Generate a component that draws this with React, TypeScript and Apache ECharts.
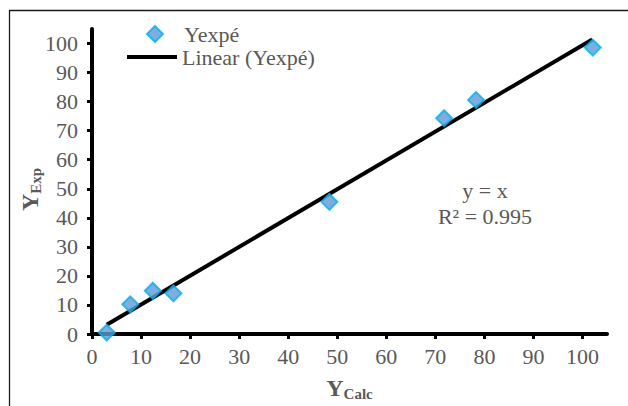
import React, { useEffect, useRef } from "react";
import * as echarts from "echarts";

const SERIES_NAME = "Yexpé";
const TREND_NAME = "Linear (Yexpé)";
const X_CALC = [3, 7.8, 12.4, 16.6, 48.4, 71.8, 78.3, 102.1];
const Y_EXP = [0.5, 10.2, 14.9, 14.0, 45.5, 74.3, 80.6, 98.6];
const TREND_X = [3, 102];
const TREND_Y = [3.2, 101.4];
const TICKS = [0, 10, 20, 30, 40, 50, 60, 70, 80, 90, 100];
const EQUATION = "y = x";
const R2_TEXT = "R² = 0.995";

const FONT = "'Liberation Serif', 'Times New Roman', serif";
const GRAY = "#595959";

export default function App() {
  const ref = useRef<HTMLDivElement>(null);
  useEffect(() => {
    if (!ref.current) return;
    const chart = echarts.init(ref.current, null, { renderer: "svg" });
    const axisCommon = {
      type: "value" as const,
      min: 0,
      max: 105,
      interval: 10,
      splitLine: { show: false },
      axisLine: { show: true, onZero: false, lineStyle: { color: "#000", width: 4 } },
      axisTick: {
        show: true,
        length: 5,
        lineStyle: { color: "#000", width: 3 },
        customValues: TICKS,
      },
      axisLabel: {
        color: GRAY,
        fontFamily: FONT,
        fontSize: 22,
        customValues: TICKS,
      },
    };
    chart.setOption({
      animation: false,
      backgroundColor: "#fff",
      textStyle: { fontFamily: FONT },
      grid: { left: 92, top: 29, width: 515, height: 310 },
      xAxis: {
        ...axisCommon,
        axisLabel: { ...axisCommon.axisLabel, margin: 11 },
        name: "{a|Y}{b|Calc}",
        nameLocation: "middle",
        nameGap: 40,
        nameMoveOverlap: false,
        nameTextStyle: {
          color: GRAY,
          rich: {
            a: { fontSize: 24, fontWeight: "bold", color: GRAY, fontFamily: FONT },
            b: { fontSize: 15, fontWeight: "bold", color: GRAY, fontFamily: FONT, padding: [12, 0, 0, 0] },
          },
        },
      },
      yAxis: {
        ...axisCommon,
        axisLabel: { ...axisCommon.axisLabel, margin: 14 },
        name: "{a|Y}{b|Exp}",
        nameLocation: "middle",
        nameRotate: 90,
        nameGap: 49,
        nameMoveOverlap: false,
        nameTextStyle: {
          color: GRAY,
          padding: [0, 16, 0, 0],
          rich: {
            a: { fontSize: 24, fontWeight: "bold", color: GRAY, fontFamily: FONT },
            b: { fontSize: 15, fontWeight: "bold", color: GRAY, fontFamily: FONT, padding: [12, 0, 0, 0] },
          },
        },
      },
      legend: [
        {
          data: [SERIES_NAME],
          left: 146,
          top: 23,
          padding: 0,
          itemWidth: 16,
          itemHeight: 16,
          textStyle: { color: GRAY, fontSize: 22, fontFamily: FONT, padding: [0, 0, 0, 16] },
        },
        {
          data: [{ name: TREND_NAME, icon: "rect" }],
          left: 127,
          top: 46,
          padding: 0,
          itemWidth: 50,
          itemHeight: 4,
          itemStyle: { color: "#000", borderWidth: 0 },
          textStyle: { color: GRAY, fontSize: 22, fontFamily: FONT },
        },
      ],
      graphic: [
        {
          type: "rect",
          shape: { x: 9.5, y: 10.5, width: 700, height: 500 },
          style: { fill: "none", stroke: "#1a1a1a", lineWidth: 1.3 },
          silent: true,
        },
        {
          type: "text",
          x: 485,
          y: 190,
          style: { text: EQUATION, fill: GRAY, fontSize: 22, fontFamily: FONT, align: "center", verticalAlign: "middle" },
        },
        {
          type: "text",
          x: 485,
          y: 216,
          style: { text: R2_TEXT, fill: GRAY, fontSize: 22, fontFamily: FONT, align: "center", verticalAlign: "middle" },
        },
      ],
      series: [
        {
          name: TREND_NAME,
          type: "line",
          symbol: "none",
          data: TREND_X.map((x, i) => [x, TREND_Y[i]]),
          itemStyle: { color: "#000" },
          lineStyle: { color: "#000", width: 4 },
          z: 2,
        },
        {
          name: SERIES_NAME,
          type: "scatter",
          symbol: "diamond",
          symbolSize: 16,
          data: X_CALC.map((x, i) => [x, Y_EXP[i]]),
          itemStyle: { color: "#5B9BD5", borderColor: "#00B0F0", borderWidth: 2 },
          z: 3,
        },
      ],
    });
    return () => chart.dispose();
  }, []);
  return (
    <div
      ref={ref}
      style={{ position: "fixed", left: 0, top: 0, width: 628, height: 406, background: "#fff" }}
    />
  );
}
